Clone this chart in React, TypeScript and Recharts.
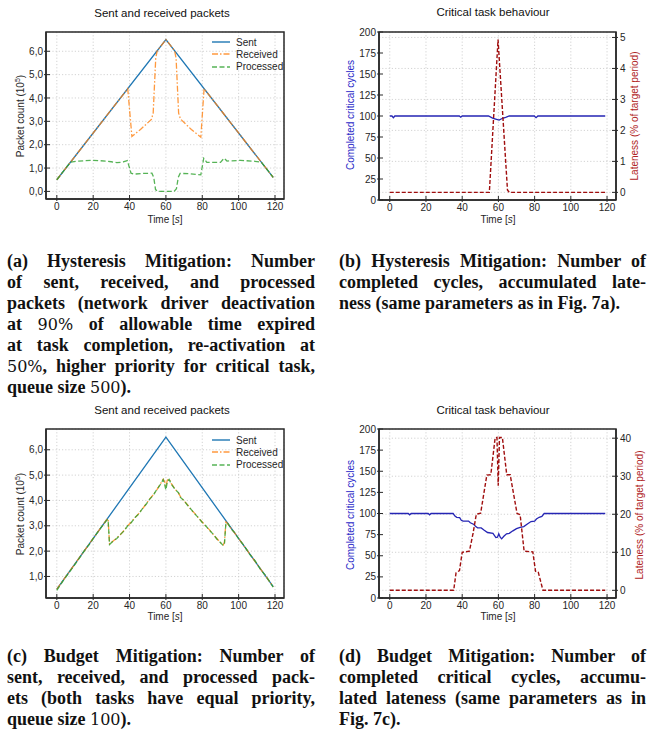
import React from 'react';
import { LineChart, Line, XAxis, YAxis, CartesianGrid, Legend } from 'recharts';

// ---------------- data ----------------
const timeTicks = [0, 20, 40, 60, 80, 100, 120];
const packetTicksA = [0, 1, 2, 3, 4, 5, 6];
const packetTicksC = [1, 2, 3, 4, 5, 6];
const cycleTicks = [0, 25, 50, 75, 100, 125, 150, 175, 200];
const latenessTicksB = [0, 1, 2, 3, 4, 5];
const latenessTicksD = [0, 10, 20, 30, 40];

// (a) Hysteresis mitigation, packets (10^5)
const sentA = [
  { t: 0, v: 0.5 }, { t: 60, v: 6.5 }, { t: 119, v: 0.6 },
];
const receivedA = [
  { t: 0, v: 0.5 }, { t: 39, v: 4.4 }, { t: 41.3, v: 2.35 }, { t: 46, v: 2.65 },
  { t: 52, v: 3.08 }, { t: 53, v: 3.35 }, { t: 54.4, v: 5.7 }, { t: 55.2, v: 6.02 },
  { t: 60, v: 6.5 }, { t: 64.8, v: 6.02 }, { t: 65.6, v: 5.7 }, { t: 67, v: 3.35 },
  { t: 68, v: 3.1 }, { t: 74, v: 2.65 }, { t: 79.2, v: 2.32 }, { t: 81, v: 4.4 },
  { t: 119, v: 0.6 },
];
const processedA = [
  { t: 0, v: 0.5 }, { t: 7.5, v: 1.25 }, { t: 12, v: 1.3 }, { t: 20, v: 1.33 },
  { t: 27, v: 1.3 }, { t: 30, v: 1.27 }, { t: 33, v: 1.23 }, { t: 36.5, v: 1.26 },
  { t: 38.8, v: 1.32 }, { t: 40.8, v: 0.78 }, { t: 42.5, v: 0.74 }, { t: 47, v: 0.77 },
  { t: 52.3, v: 0.78 }, { t: 53.3, v: 0.6 }, { t: 54.3, v: 0.08 }, { t: 55.5, v: 0.0 },
  { t: 64.5, v: 0.0 }, { t: 65.8, v: 0.12 }, { t: 66.8, v: 0.6 }, { t: 67.8, v: 0.77 },
  { t: 73, v: 0.76 }, { t: 79.2, v: 0.71 }, { t: 80.8, v: 1.42 }, { t: 82.5, v: 1.24 },
  { t: 90, v: 1.24 }, { t: 92, v: 1.42 }, { t: 93.6, v: 1.3 }, { t: 101, v: 1.33 },
  { t: 109, v: 1.29 }, { t: 112.5, v: 1.25 }, { t: 119, v: 0.6 },
];

// (b) Hysteresis mitigation, critical task
const cyclesB = [
  { t: 0, v: 100 }, { t: 1.2, v: 100 }, { t: 2, v: 98 }, { t: 2.8, v: 100 },
  { t: 38.4, v: 100 }, { t: 39.2, v: 98.6 }, { t: 40, v: 100 }, { t: 54.5, v: 100 },
  { t: 56.8, v: 97.5 }, { t: 58.5, v: 96.4 }, { t: 60.4, v: 95.2 }, { t: 62.3, v: 97.3 },
  { t: 64, v: 98.4 }, { t: 66, v: 100 }, { t: 79.8, v: 100 }, { t: 80.8, v: 98 },
  { t: 81.8, v: 100 }, { t: 119, v: 100 },
];
const latenessB = [
  { t: 0, v: 0 }, { t: 55, v: 0 }, { t: 59.8, v: 4.93 }, { t: 65, v: 0.08 },
  { t: 66, v: 0 }, { t: 119, v: 0 },
];

// (c) Budget mitigation, packets (10^5)
const sentC = [
  { t: 0, v: 0.5 }, { t: 60, v: 6.5 }, { t: 119, v: 0.6 },
];
const receivedC = [
  { t: 0, v: 0.5 }, { t: 3, v: 0.8 }, { t: 5, v: 1.0 }, { t: 8, v: 1.3 }, { t: 10, v: 1.5 },
  { t: 13, v: 1.8 }, { t: 16, v: 2.1 }, { t: 18, v: 2.3 }, { t: 20, v: 2.5 }, { t: 23, v: 2.8 },
  { t: 25, v: 3.0 }, { t: 27.5, v: 3.25 }, { t: 28.2, v: 3.28 }, { t: 29, v: 2.28 },
  { t: 31, v: 2.4 }, { t: 33, v: 2.52 }, { t: 35, v: 2.65 }, { t: 37, v: 2.82 },
  { t: 39, v: 3.0 }, { t: 41, v: 3.15 }, { t: 43, v: 3.32 }, { t: 45, v: 3.48 },
  { t: 47, v: 3.66 }, { t: 49, v: 3.85 }, { t: 51, v: 4.05 }, { t: 53, v: 4.22 },
  { t: 55, v: 4.42 }, { t: 57, v: 4.65 }, { t: 58.5, v: 4.84 }, { t: 59.3, v: 4.75 },
  { t: 60, v: 4.55 }, { t: 60.8, v: 4.8 }, { t: 61.8, v: 4.85 }, { t: 63, v: 4.66 },
  { t: 65, v: 4.45 }, { t: 67, v: 4.28 }, { t: 68, v: 4.15 }, { t: 70, v: 3.98 },
  { t: 72, v: 3.82 }, { t: 74, v: 3.62 }, { t: 76, v: 3.48 }, { t: 78, v: 3.3 },
  { t: 80, v: 3.15 }, { t: 82, v: 2.98 }, { t: 84, v: 2.84 }, { t: 86, v: 2.66 },
  { t: 88, v: 2.5 }, { t: 90, v: 2.33 }, { t: 91.5, v: 2.24 }, { t: 92.2, v: 2.35 },
  { t: 93, v: 3.15 }, { t: 94, v: 3.08 }, { t: 96, v: 2.88 }, { t: 98, v: 2.7 },
  { t: 100, v: 2.5 }, { t: 103, v: 2.2 }, { t: 106, v: 1.9 }, { t: 109, v: 1.6 },
  { t: 112, v: 1.3 }, { t: 115, v: 1.0 }, { t: 119, v: 0.6 },
];
const processedC = [
  { t: 0, v: 0.45 }, { t: 3, v: 0.78 }, { t: 6, v: 1.08 }, { t: 9, v: 1.38 }, { t: 12, v: 1.68 },
  { t: 15, v: 2.0 }, { t: 18, v: 2.28 }, { t: 21, v: 2.6 }, { t: 24, v: 2.9 }, { t: 27.5, v: 3.22 },
  { t: 28.2, v: 3.25 }, { t: 29, v: 2.26 }, { t: 31, v: 2.4 }, { t: 33, v: 2.5 },
  { t: 35, v: 2.66 }, { t: 37, v: 2.8 }, { t: 39, v: 3.0 }, { t: 41, v: 3.13 },
  { t: 43, v: 3.33 }, { t: 45, v: 3.46 }, { t: 47, v: 3.67 }, { t: 49, v: 3.84 },
  { t: 51, v: 4.04 }, { t: 53, v: 4.2 }, { t: 55, v: 4.43 }, { t: 57, v: 4.63 },
  { t: 58.5, v: 4.82 }, { t: 59.4, v: 4.6 }, { t: 60, v: 4.42 }, { t: 60.8, v: 4.75 },
  { t: 61.8, v: 4.83 }, { t: 63, v: 4.64 }, { t: 65, v: 4.44 }, { t: 67, v: 4.3 },
  { t: 68, v: 4.12 }, { t: 70, v: 3.99 }, { t: 72, v: 3.8 }, { t: 74, v: 3.64 },
  { t: 76, v: 3.46 }, { t: 78, v: 3.31 }, { t: 80, v: 3.13 }, { t: 82, v: 2.99 },
  { t: 84, v: 2.82 }, { t: 86, v: 2.67 }, { t: 88, v: 2.48 }, { t: 90, v: 2.34 },
  { t: 91.5, v: 2.22 }, { t: 92.2, v: 2.3 }, { t: 93, v: 3.12 }, { t: 94, v: 3.1 },
  { t: 96, v: 2.86 }, { t: 98, v: 2.72 }, { t: 100, v: 2.48 }, { t: 103, v: 2.22 },
  { t: 106, v: 1.88 }, { t: 109, v: 1.62 }, { t: 112, v: 1.28 }, { t: 115, v: 1.02 },
  { t: 119, v: 0.58 },
];

// (d) Budget mitigation, critical task
const cyclesD = [
  { t: 0, v: 100 }, { t: 10.2, v: 100 }, { t: 11, v: 98.5 }, { t: 11.8, v: 100 },
  { t: 21.2, v: 100 }, { t: 22, v: 98.5 }, { t: 22.8, v: 100 }, { t: 35, v: 100 },
  { t: 36, v: 97 }, { t: 37, v: 95.5 }, { t: 38.6, v: 95 }, { t: 39.5, v: 92 },
  { t: 40.5, v: 91 }, { t: 43.5, v: 91 }, { t: 44.5, v: 89 }, { t: 46.5, v: 87 },
  { t: 47.5, v: 84.5 }, { t: 48.5, v: 83 }, { t: 50.5, v: 83 }, { t: 52, v: 80.5 },
  { t: 54, v: 77.5 }, { t: 57, v: 76.5 }, { t: 58.6, v: 71.5 }, { t: 59.5, v: 72 },
  { t: 60.2, v: 76 }, { t: 61, v: 72 }, { t: 61.8, v: 70 }, { t: 63, v: 73 },
  { t: 64.5, v: 76 }, { t: 66, v: 76.5 }, { t: 68, v: 79.5 }, { t: 70, v: 82 },
  { t: 72, v: 83.5 }, { t: 74, v: 84.5 }, { t: 76, v: 87.5 }, { t: 78, v: 90.5 },
  { t: 80, v: 91 }, { t: 81, v: 93.5 }, { t: 82.5, v: 95.5 }, { t: 84, v: 96.5 },
  { t: 85.3, v: 100 }, { t: 119, v: 100 },
];
const latenessD = [
  { t: 0, v: 0 }, { t: 35.3, v: 0 }, { t: 36.6, v: 4.6 }, { t: 38.5, v: 5.2 },
  { t: 40, v: 10 }, { t: 44, v: 10.3 }, { t: 46, v: 15 }, { t: 47.8, v: 20 },
  { t: 50.2, v: 20.3 }, { t: 53.6, v: 30.3 }, { t: 55.8, v: 30.4 }, { t: 58.2, v: 40.1 },
  { t: 59.2, v: 40.2 }, { t: 59.9, v: 27.5 }, { t: 60.6, v: 40.2 }, { t: 62.2, v: 40.2 },
  { t: 64.6, v: 30.4 }, { t: 66.5, v: 30.4 }, { t: 70.3, v: 20.2 }, { t: 72, v: 19.9 },
  { t: 74.2, v: 10.3 }, { t: 79, v: 10.1 }, { t: 80.5, v: 5 }, { t: 82, v: 4.8 },
  { t: 84.6, v: 0 }, { t: 119, v: 0 },
];

// ---------------- styling ----------------
const SANS = '"Liberation Sans", Arial, sans-serif';
const SERIF = '"Liberation Serif", "Times New Roman", serif';
const AX = '#262626';
const FRAME = '#2a2a2a';
const GRID = '#c8c8c8';
const C_SENT = '#1f77b4';
const C_RECV = '#ff7f0e';
const C_PROC = '#2ca02c';
const C_BLUE = '#2525b4';
const C_RED = '#a00e0e';
const X_DOMAIN: [number, number] = [-5.95, 124.95];

const comma = (v: number) => v.toFixed(1).replace('.', ',');
const plain = (v: number) => String(v);

function makeTick(side: 'bottom' | 'left' | 'right', fmt: (v: number) => string) {
  return (props: any) => {
    const { x, y, payload } = props;
    const label = fmt(payload.value);
    if (side === 'bottom') {
      return (
        <g>
          <line x1={x} x2={x} y1={y - 4} y2={y + 2} stroke={FRAME} strokeWidth={1} />
          <text x={x} y={y + 11} textAnchor="middle" fontSize={10} fill={AX} fontFamily={SANS}>{label}</text>
        </g>
      );
    }
    if (side === 'left') {
      return (
        <g>
          <line x1={x - 2} x2={x + 4} y1={y} y2={y} stroke={FRAME} strokeWidth={1} />
          <text x={x - 3} y={y + 3.6} textAnchor="end" fontSize={10} fill={AX} fontFamily={SANS}>{label}</text>
        </g>
      );
    }
    return (
      <g>
        <line x1={x - 4} x2={x + 2} y1={y} y2={y} stroke={FRAME} strokeWidth={1} />
        <text x={x + 4} y={y + 3.6} textAnchor="start" fontSize={10} fill={AX} fontFamily={SANS}>{label}</text>
      </g>
    );
  };
}

const legendItems = [
  { name: 'Sent', color: C_SENT, dash: undefined as string | undefined, op: 1 },
  { name: 'Received', color: C_RECV, dash: '6 2 1.5 2', op: 0.8 },
  { name: 'Processed', color: C_PROC, dash: '5 2.5', op: 0.8 },
];

const PacketLegend = () => (
  <div style={{ fontFamily: SANS, fontSize: 10, color: AX }}>
    {legendItems.map((it) => (
      <div key={it.name} style={{ display: 'flex', alignItems: 'center', height: 12.3 }}>
        <svg width={20} height={8} style={{ marginRight: 5 }}>
          <line x1={1} x2={19} y1={4} y2={4} stroke={it.color} strokeWidth={1.4}
            strokeDasharray={it.dash} strokeOpacity={it.op} />
        </svg>
        <span>{it.name}</span>
      </div>
    ))}
  </div>
);

const abs = (left: number, top: number, extra: React.CSSProperties = {}): React.CSSProperties => ({
  position: 'absolute', left, top, whiteSpace: 'nowrap', ...extra,
});

// plot-area box drawn as an SVG overlay on top of the chart
function Frame({ left, top, width, height }: { left: number; top: number; width: number; height: number }) {
  return (
    <svg width={width + 4} height={height + 4}
      style={{ position: 'absolute', left: left - 2, top: top - 2, zIndex: 5, pointerEvents: 'none', overflow: 'visible' }}>
      <rect x={2} y={2} width={width} height={height} fill="none" stroke={FRAME} strokeWidth={1.5} />
    </svg>
  );
}

function Title({ x, y, text }: { x: number; y: number; text: string }) {
  return (
    <div style={abs(x, y, { transform: 'translate(-50%,-50%)', fontFamily: SANS, fontSize: 11.5, color: '#111', lineHeight: 1 })}>
      {text}
    </div>
  );
}

function XLabel({ x, y }: { x: number; y: number }) {
  return (
    <div style={abs(x, y, { transform: 'translate(-50%,-50%)', fontFamily: SANS, fontSize: 10, color: AX, lineHeight: 1 })}>
      Time [<i>s</i>]
    </div>
  );
}

function YLabel({ x, y, color, children }: { x: number; y: number; color: string; children: React.ReactNode }) {
  return (
    <div style={abs(x, y, { transform: 'translate(-50%,-50%) rotate(-90deg)', fontFamily: SANS, fontSize: 10, color, lineHeight: 1 })}>
      {children}
    </div>
  );
}

function PacketChart({ sent, received, processed, yDomain, yTicks, top, bottomH, legendTop }: any) {
  return (
    <LineChart width={330} height={230} margin={{ top, right: 46, bottom: 0, left: 0 }}>
      <CartesianGrid stroke={GRID} strokeDasharray="1.2 2" strokeWidth={0.8} />
      <XAxis dataKey="t" type="number" domain={X_DOMAIN} ticks={timeTicks} allowDataOverflow
        height={bottomH} tickSize={0} tickMargin={0} tickLine={false}
        axisLine={{ stroke: FRAME, strokeWidth: 1.5 }}
        tick={makeTick('bottom', plain)} interval={0} />
      <YAxis type="number" domain={yDomain} ticks={yTicks} allowDataOverflow width={46}
        tickSize={0} tickMargin={0} tickLine={false} interval={0}
        axisLine={{ stroke: FRAME, strokeWidth: 1.5 }}
        tick={makeTick('left', comma)} />
      <Line data={sent} dataKey="v" name="Sent" type="linear" stroke={C_SENT} strokeWidth={1.3}
        dot={false} isAnimationActive={false} />
      <Line data={received} dataKey="v" name="Received" type="linear" stroke={C_RECV} strokeWidth={1.3}
        strokeOpacity={0.8} strokeDasharray="6 2 1.5 2" dot={false} isAnimationActive={false} />
      <Line data={processed} dataKey="v" name="Processed" type="linear" stroke={C_PROC} strokeWidth={1.3}
        strokeOpacity={0.8} strokeDasharray="5 2.5" dot={false} isAnimationActive={false} />
      <Legend layout="vertical" align="center" verticalAlign="middle" content={PacketLegend}
        wrapperStyle={{ left: 211, top: legendTop, width: 80, height: 40 }} />
    </LineChart>
  );
}

function TaskChart({ cycles, lateness, rDomain, rTicks, top, bottomH }: any) {
  return (
    <LineChart width={322} height={230} margin={{ top, right: 0, bottom: 0, left: 0 }}>
      <CartesianGrid stroke={GRID} strokeDasharray="1.2 2" strokeWidth={0.8} yAxisId="r" />
      <XAxis dataKey="t" type="number" domain={X_DOMAIN} ticks={timeTicks} allowDataOverflow
        height={bottomH} tickSize={0} tickMargin={0} tickLine={false} interval={0}
        axisLine={{ stroke: FRAME, strokeWidth: 1.5 }}
        tick={makeTick('bottom', plain)} />
      <YAxis yAxisId="l" type="number" domain={[0, 200]} ticks={cycleTicks} allowDataOverflow width={49}
        tickSize={0} tickMargin={0} tickLine={false} interval={0}
        axisLine={{ stroke: FRAME, strokeWidth: 1.5 }}
        tick={makeTick('left', plain)} />
      <YAxis yAxisId="r" orientation="right" type="number" domain={rDomain} ticks={rTicks} allowDataOverflow
        width={36} tickSize={0} tickMargin={0} tickLine={false} interval={0}
        axisLine={{ stroke: FRAME, strokeWidth: 1.5 }}
        tick={makeTick('right', plain)} />
      <Line yAxisId="l" data={cycles} dataKey="v" type="linear" stroke={C_BLUE} strokeWidth={1.3}
        dot={false} isAnimationActive={false} />
      <Line yAxisId="r" data={lateness} dataKey="v" type="linear" stroke={C_RED} strokeWidth={1.4}
        strokeDasharray="4 2" dot={false} isAnimationActive={false} />
    </LineChart>
  );
}

function Caption({ left, top, width, lines }: { left: number; top: number; width: number; lines: React.ReactNode[] }) {
  return (
    <div style={{ position: 'absolute', left, top, width, fontFamily: SERIF, fontWeight: 700, fontSize: 18, lineHeight: '21px', color: '#111' }}>
      {lines.map((ln, i) => {
        const last = i === lines.length - 1;
        return (
          <div key={i} style={{ textAlign: last ? 'left' : 'justify', textAlignLast: last ? 'left' : 'justify', whiteSpace: 'nowrap' }}>
            {ln}
          </div>
        );
      })}
    </div>
  );
}

const M = ({ children }: { children: React.ReactNode }) => (
  <span style={{ fontWeight: 400, fontFamily: '"DejaVu Serif", serif', fontSize: 16 }}>{children}</span>
);

const captionA = [
  <>(a) Hysteresis Mitigation: Number</>,
  <>of sent, received, and processed</>,
  <>packets (network driver deactivation</>,
  <>at <M>90%</M> of allowable time expired</>,
  <>at task completion, re-activation at</>,
  <><M>50%</M>, higher priority for critical task,</>,
  <>queue size <M>500</M>).</>,
];
const captionB = [
  <>(b) Hysteresis Mitigation: Number of</>,
  <>completed cycles, accumulated late-</>,
  <>ness (same parameters as in Fig. 7a).</>,
];
const captionC = [
  <>(c) Budget Mitigation: Number of</>,
  <>sent, received, and processed pack-</>,
  <>ets (both tasks have equal priority,</>,
  <>queue size <M>100</M>).</>,
];
const captionD = [
  <>(d) Budget Mitigation: Number of</>,
  <>completed critical cycles, accumu-</>,
  <>lated lateness (same parameters as in</>,
  <>Fig. 7c).</>,
];

export default function App() {
  return (
    <div style={{ position: 'absolute', left: 0, top: 0, width: 652, height: 734, background: '#fff', overflow: 'hidden' }}>
      {/* (a) */}
      <div style={{ position: 'absolute', left: 0, top: 0, width: 330, height: 230 }}>
        <PacketChart sent={sentA} received={receivedA} processed={processedA}
          yDomain={[-0.325, 6.825]} yTicks={packetTicksA} top={32} bottomH={31} legendTop={36} />
        <Frame left={46} top={32} width={238} height={167} />
        <Title x={162} y={14} text="Sent and received packets" />
        <XLabel x={165} y={219.5} />
        <YLabel x={20} y={116} color={AX}>Packet count (10<sup style={{ fontSize: 7 }}>5</sup>)</YLabel>
      </div>
      {/* (b) */}
      <div style={{ position: 'absolute', left: 330, top: 0, width: 322, height: 230 }}>
        <TaskChart cycles={cyclesB} lateness={latenessB} rDomain={[-0.2465, 5.1765]} rTicks={latenessTicksB}
          top={32} bottomH={30} />
        <Frame left={49} top={32} width={237} height={168} />
        <Title x={163} y={13} text="Critical task behaviour" />
        <XLabel x={168} y={220} />
        <YLabel x={20.5} y={115} color="#2a2ac8">Completed critical cycles</YLabel>
        <YLabel x={304.5} y={116} color="#b02424">Lateness (% of target period)</YLabel>
      </div>
      {/* (c) */}
      <div style={{ position: 'absolute', left: 0, top: 395, width: 330, height: 230 }}>
        <PacketChart sent={sentC} received={receivedC} processed={processedC}
          yDomain={[0.15, 6.82]} yTicks={packetTicksC} top={34} bottomH={27} legendTop={39} />
        <Frame left={46} top={34} width={238} height={169} />
        <Title x={162} y={16} text="Sent and received packets" />
        <XLabel x={165} y={222} />
        <YLabel x={20} y={119} color={AX}>Packet count (10<sup style={{ fontSize: 7 }}>5</sup>)</YLabel>
      </div>
      {/* (d) */}
      <div style={{ position: 'absolute', left: 330, top: 395, width: 322, height: 230 }}>
        <TaskChart cycles={cyclesD} lateness={latenessD} rDomain={[-2.02, 42.42]} rTicks={latenessTicksD}
          top={34} bottomH={27} />
        <Frame left={49} top={34} width={237} height={169} />
        <Title x={163} y={16} text="Critical task behaviour" />
        <XLabel x={168} y={222} />
        <YLabel x={20.5} y={120} color="#2a2ac8">Completed critical cycles</YLabel>
        <YLabel x={310} y={120} color="#b02424">Lateness (% of target period)</YLabel>
      </div>
      <Caption left={7} top={251} width={308} lines={captionA} />
      <Caption left={339} top={251} width={307} lines={captionB} />
      <Caption left={7} top={646} width={308} lines={captionC} />
      <Caption left={339} top={646} width={307} lines={captionD} />
    </div>
  );
}
